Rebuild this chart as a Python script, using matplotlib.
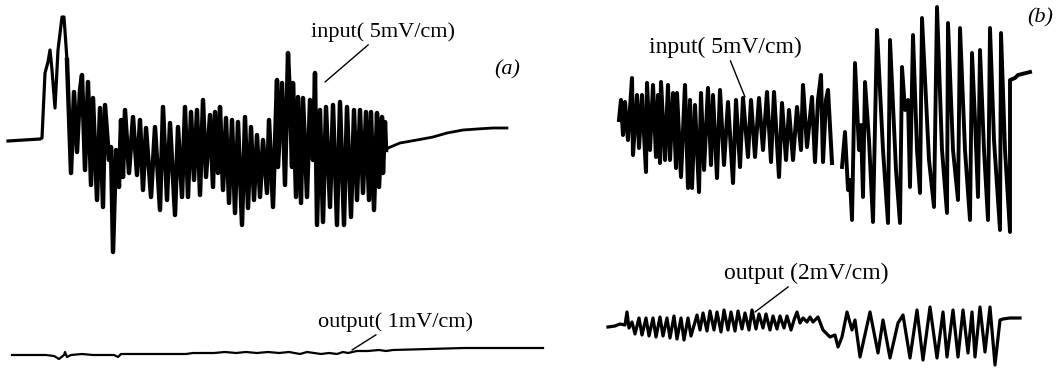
import numpy as np
import matplotlib
matplotlib.use("Agg")
import matplotlib.pyplot as plt

# ---- data (time units / trace deflection) ----
a_input_t = [8, 40, 42, 45, 48, 50, 52, 55, 58, 62, 64, 67, 71, 74, 77, 80, 82, 85, 88, 91, 93, 97, 100, 103,
             105, 109, 111, 113, 116, 119, 121, 123, 125, 129, 133, 137, 140, 143, 146, 151, 155, 160, 163,
             167, 170, 175, 178, 182, 185, 188, 191, 194, 197, 200, 203, 206, 210, 213, 215, 218, 220, 223,
             226, 229, 232, 235, 238, 242, 245, 248, 251, 254, 257, 260, 263, 267, 269, 273, 277, 278, 282,
             285, 288, 290, 292, 293, 296, 298, 301, 303, 307, 310, 313, 315, 317, 320, 323, 326, 330, 333,
             337, 340, 344, 347, 351, 354, 357, 360, 363, 366, 369, 371, 374, 377, 379, 382, 383, 385, 386,
             388, 400, 417, 433, 447, 463, 477, 493, 507]
a_input_v = [141, 139, 138, 73, 62, 50, 70, 108, 50, 17, 17, 60, 173, 92, 152, 90, 75, 170, 82, 185, 98, 200,
             108, 207, 105, 160, 147, 252, 150, 187, 120, 177, 110, 173, 117, 175, 120, 190, 128, 197, 127,
             210, 107, 200, 123, 215, 127, 197, 107, 197, 112, 180, 110, 195, 100, 177, 115, 187, 112, 173,
             107, 190, 118, 203, 120, 213, 122, 225, 117, 208, 127, 200, 135, 197, 140, 193, 120, 207, 80,
             167, 83, 185, 53, 100, 167, 83, 197, 97, 203, 98, 197, 100, 160, 73, 225, 110, 222, 107, 207,
             105, 225, 102, 225, 107, 217, 110, 200, 110, 193, 112, 200, 112, 210, 113, 187, 117, 173, 122,
             150, 148, 143, 140, 137, 133, 130, 129, 128, 128]

a_output_t = [12, 46, 54, 59, 64, 65, 67, 71, 82, 93, 107, 114, 118, 121, 143, 186, 193, 214, 225, 236, 246,
              257, 268, 279, 289, 300, 307, 314, 321, 329, 337, 343, 348, 357, 368, 379, 386, 393, 429, 464,
              500, 543]
a_output_v = [355, 355, 356, 359, 355, 352, 357, 355, 354, 355, 355, 355, 357, 354, 354, 354, 353, 353, 352,
              353, 352, 353, 352, 353, 352, 354, 352, 353, 354, 353, 354, 352, 353, 351, 351, 350, 351, 350,
              349, 348, 348, 348]

b_input1_t = [619, 621, 623, 625, 628, 632, 633, 637, 639, 642, 646, 647, 650, 653, 656, 658, 660, 661, 665,
              668, 670, 673, 676, 677, 681, 685, 688, 690, 692, 695, 699, 701, 704, 708, 711, 713, 717, 720,
              724, 728, 733, 736, 740, 743, 748, 751, 755, 759, 763, 767, 771, 774, 779, 782, 786, 789, 793,
              797, 801, 803, 807, 812, 815, 818, 821, 823, 826, 828, 832]
b_input1_v = [120, 100, 135, 102, 140, 78, 155, 95, 148, 95, 172, 83, 150, 85, 157, 95, 163, 82, 160, 85,
              160, 93, 168, 93, 177, 85, 188, 100, 188, 105, 192, 93, 170, 88, 165, 95, 178, 90, 165, 102,
              183, 100, 167, 98, 157, 100, 157, 98, 150, 92, 162, 92, 177, 103, 160, 110, 160, 107, 150, 85,
              147, 97, 162, 100, 75, 162, 100, 90, 163]
b_input2_t = [842, 845, 848, 850, 852, 855, 859, 861, 863, 865, 869, 873, 877, 883, 888, 890, 896, 900, 902,
              905, 908, 910, 913, 917, 920, 922, 929, 934, 937, 942, 947, 948, 953, 958, 960, 965, 970, 972,
              975, 978, 980, 984, 988, 990, 994, 1000, 1001, 1005, 1010, 1010, 1015, 1018, 1030]
b_input2_v = [167, 132, 190, 180, 220, 63, 150, 125, 197, 82, 140, 222, 30, 150, 223, 40, 170, 223, 67, 110,
              100, 187, 35, 150, 193, 18, 160, 207, 7, 150, 213, 23, 150, 200, 28, 150, 220, 53, 120, 197,
              50, 150, 220, 28, 140, 230, 33, 150, 232, 80, 78, 75, 72]

b_output_t = [608, 615, 620, 625, 627, 629, 632, 635, 639, 642, 646, 649, 653, 656, 660, 663, 667, 670, 674,
              677, 681, 684, 688, 691, 695, 697, 700, 703, 707, 710, 714, 717, 721, 724, 728, 731, 735, 738,
              742, 745, 749, 752, 756, 759, 763, 766, 770, 773, 777, 780, 784, 787, 791, 794, 797, 800, 803,
              807, 810, 813, 818, 823, 830, 835, 838, 842, 847, 852, 855, 860, 870, 878, 883, 890, 898, 903,
              910, 917, 923, 930, 937, 943, 947, 953, 958, 963, 968, 972, 975, 980, 985, 990, 995, 1000, 1003,
              1010, 1020]
b_output_v = [327, 326, 324, 325, 312, 328, 322, 334, 318, 335, 318, 336, 318, 337, 317, 336, 318, 338, 316,
              339, 318, 340, 318, 336, 322, 315, 330, 313, 331, 311, 330, 312, 332, 310, 330, 312, 331, 311,
              329, 313, 330, 310, 329, 314, 328, 314, 330, 316, 329, 316, 328, 316, 330, 320, 312, 323, 318,
              322, 317, 322, 317, 330, 337, 335, 347, 337, 312, 330, 320, 357, 312, 353, 320, 358, 323, 315,
              358, 310, 360, 307, 358, 312, 357, 310, 357, 310, 353, 312, 357, 307, 352, 307, 365, 320, 319,
              318, 318]

labels = {
    "a_in": "input( 5mV/cm)",
    "a_out": "output( 1mV/cm)",
    "b_in": "input( 5mV/cm)",
    "b_out": "output (2mV/cm)",
    "a": "(a)",
    "b": "(b)",
}

# ---- figure ----
W, H = 1059, 374
fig = plt.figure(figsize=(W / 100, H / 100), dpi=100)
ax = fig.add_axes([0, 0, 1, 1])
ax.set_xlim(0, W)
ax.set_ylim(H, 0)
ax.axis("off")

ink = "black"
# the dense burst of trace (a) is drawn heavier, as the overlapping strokes of the scan are
i0 = a_input_t.index(67)
i1 = a_input_t.index(386) + 1
ax.plot(a_input_t[:i0 + 1], a_input_v[:i0 + 1], color=ink, lw=2.3, solid_joinstyle="round")
ax.plot(a_input_t[i0:i1], a_input_v[i0:i1], color=ink, lw=3.2, solid_joinstyle="round")
ax.plot(a_input_t[i1 - 1:], a_input_v[i1 - 1:], color=ink, lw=2.0, solid_joinstyle="round")
ax.plot(a_output_t, a_output_v, color=ink, lw=1.6)
ax.plot(b_input1_t, b_input1_v, color=ink, lw=2.9, solid_joinstyle="round")
ax.plot(b_input2_t, b_input2_v, color=ink, lw=2.8, solid_joinstyle="round")
ax.plot(b_output_t, b_output_v, color=ink, lw=2.3, solid_joinstyle="round")

arrow = dict(arrowstyle="-", color=ink, lw=1.0, shrinkA=0, shrinkB=0)
serif = "Liberation Serif"

ax.annotate(labels["a_in"], xy=(325, 82), xytext=(383, 42), ha="center", va="bottom",
            arrowprops=arrow, family=serif, fontsize=16, color=ink)
ax.annotate(labels["a_out"], xy=(352, 350), xytext=(396, 332), ha="center", va="bottom",
            arrowprops=arrow, family=serif, fontsize=16, color=ink)
ax.annotate(labels["b_in"], xy=(745, 97), xytext=(725, 58), ha="center", va="bottom",
            arrowprops=arrow, family=serif, fontsize=17, color=ink)
ax.annotate(labels["b_out"], xy=(755, 312), xytext=(806, 284), ha="center", va="bottom",
            arrowprops=arrow, family=serif, fontsize=17, color=ink)
ax.text(507, 70, labels["a"], ha="center", va="center", style="italic",
        family=serif, fontsize=16, color=ink)
ax.text(1040, 18, labels["b"], ha="center", va="center", style="italic",
        family=serif, fontsize=16, color=ink)

fig.savefig("out.png", dpi=100)
